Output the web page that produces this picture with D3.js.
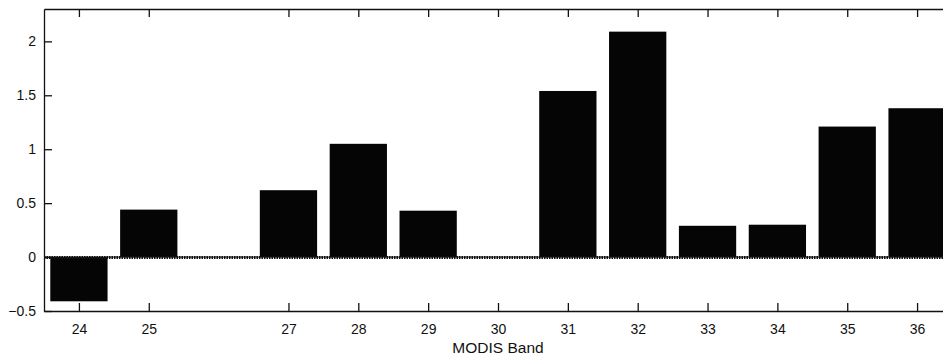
<!DOCTYPE html>
<html>
<head>
<meta charset="utf-8">
<script src="https://cdn.jsdelivr.net/npm/d3@7"></script>
<style>
  html, body { margin: 0; padding: 0; background: #fff; overflow: hidden; }
  text { font-family: "Liberation Sans", Arial, Helvetica, sans-serif; fill: #111; }
</style>
</head>
<body>
<div id="chart-container"></div>
<script>
const width = 943;
const height = 356;

// plot frame (right side runs past the window edge, as in the reference)
const plotLeft = 44, plotRight = 952, plotTop = 9, plotBottom = 311;

const bands = [24, 25, 27, 28, 29, 31, 32, 33, 34, 35, 36];
const values = [-0.41, 0.44, 0.62, 1.05, 0.43, 1.54, 2.09, 0.29, 0.30, 1.21, 1.38];
const xTicks = [24, 25, 27, 28, 29, 30, 31, 32, 33, 34, 35, 36];
const yTicks = [-0.5, 0, 0.5, 1, 1.5, 2];
const xAxisName = "MODIS Band";

var svg = d3.select("#chart-container")
    .append("svg")
    .attr("width", width)
    .attr("height", height);

var xScale = d3.scaleLinear()
    .domain([23.5, 36.5])
    .range([plotLeft, plotRight]);

var yScale = d3.scaleLinear()
    .domain([-0.5, 2.3])
    .range([plotBottom, plotTop]);

const barWidth = (xScale(1) - xScale(0)) * 0.82;

// bars
svg.append("g")
    .selectAll("rect")
    .data(bands)
    .join("rect")
    .attr("x", (d) => xScale(d) - barWidth / 2)
    .attr("width", barWidth)
    .attr("y", (d, i) => yScale(Math.max(0, values[i])))
    .attr("height", (d, i) => Math.abs(yScale(values[i]) - yScale(0)))
    .attr("fill", "#050505");

// zero baseline, drawn as a beaded line like the scan
svg.append("line")
    .attr("x1", plotLeft).attr("x2", width)
    .attr("y1", yScale(0)).attr("y2", yScale(0))
    .attr("stroke", "#111")
    .attr("stroke-width", 1);

svg.append("line")
    .attr("x1", plotLeft).attr("x2", width)
    .attr("y1", yScale(0) + 0.5).attr("y2", yScale(0) + 0.5)
    .attr("stroke", "#111")
    .attr("stroke-width", 3)
    .style("stroke-dasharray", "1.5, 1");

// bottom axis, ticks pointing inward
var xAxis = svg.append("g")
    .attr("transform", `translate(0, ${plotBottom})`)
    .call(d3.axisBottom(xScale)
        .tickValues(xTicks)
        .tickSize(-8)
        .tickPadding(13)
        .tickSizeOuter(0)
        .tickFormat(d3.format("d")));
xAxis.select(".domain").attr("stroke", "#111").attr("stroke-width", 1.3);
xAxis.selectAll(".tick line").attr("stroke", "#111").attr("stroke-width", 1.3);
xAxis.selectAll("text").style("font-size", "14px").attr("fill", "#111");

// top axis, ticks only
var xTop = svg.append("g")
    .attr("transform", `translate(0, ${plotTop})`)
    .call(d3.axisTop(xScale)
        .tickValues(xTicks)
        .tickSize(-8)
        .tickSizeOuter(0)
        .tickFormat(""));
xTop.select(".domain").attr("stroke", "#111").attr("stroke-width", 1.3);
xTop.selectAll(".tick line").attr("stroke", "#111").attr("stroke-width", 1.3);

// left axis, ticks pointing inward
var yAxis = svg.append("g")
    .attr("transform", `translate(${plotLeft}, 0)`)
    .call(d3.axisLeft(yScale)
        .tickValues(yTicks)
        .tickSize(-8)
        .tickPadding(8)
        .tickSizeOuter(0)
        .tickFormat((d) => d < 0 ? "\u2212" + Math.abs(d) : d));
yAxis.select(".domain").attr("stroke", "#111").attr("stroke-width", 1.3);
yAxis.selectAll(".tick line").attr("stroke", "#111").attr("stroke-width", 1.3);
yAxis.selectAll("text").style("font-size", "14px").attr("fill", "#111");

// x axis label
svg.append("text")
    .attr("x", (plotLeft + plotRight) / 2)
    .attr("y", 353)
    .attr("text-anchor", "middle")
    .style("font-size", "15.5px")
    .text(xAxisName);
</script>
</body>
</html>
